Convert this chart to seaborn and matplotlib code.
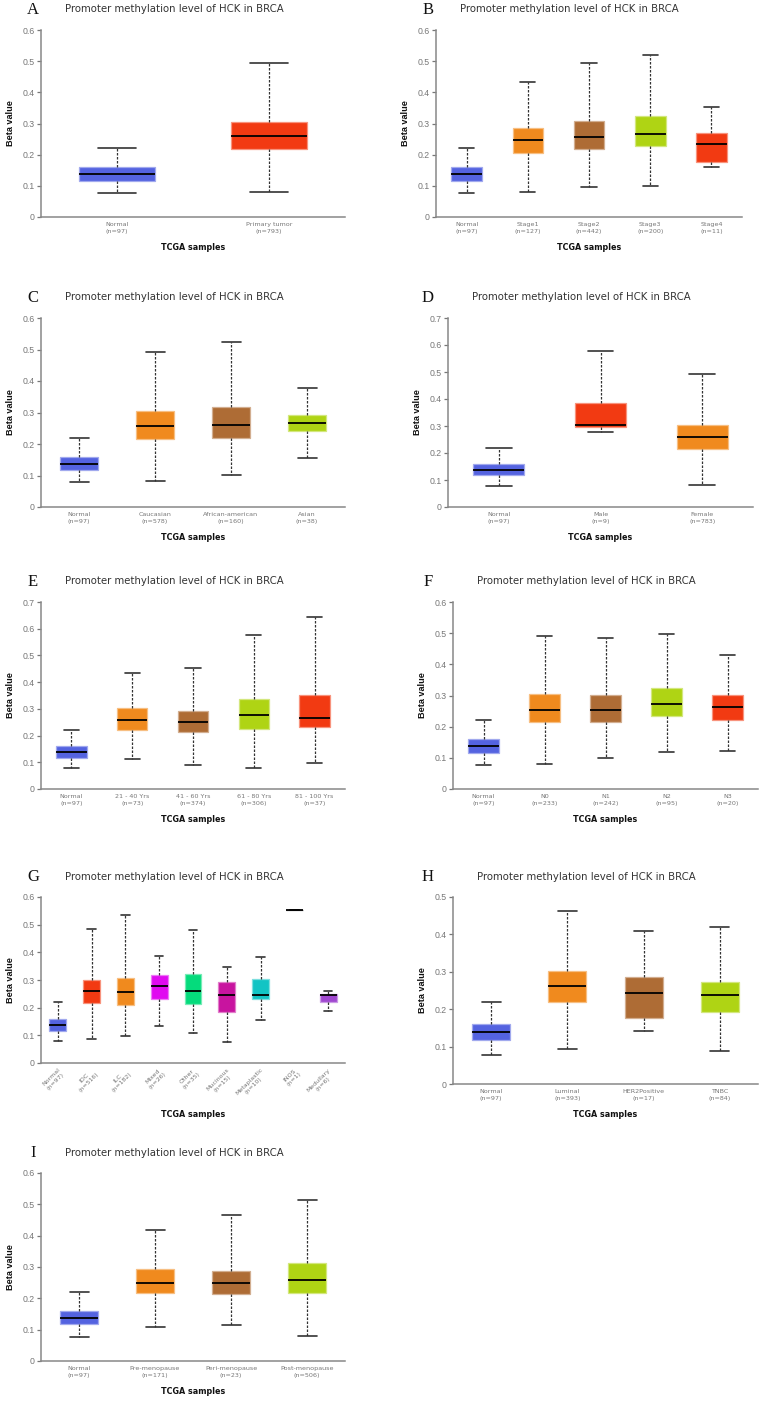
import numpy as np
import pandas as pd
import seaborn as sns
import matplotlib.pyplot as plt

# five-number summaries: [min, q1, median, q3, max]
normal = [0.078, 0.117, 0.138, 0.160, 0.220]

a_groups = ["Normal", "Primary tumor"]
a_n = [97, 793]
a_stats = [normal, [0.079, 0.217, 0.259, 0.306, 0.493]]

b_groups = ["Normal", "Stage1", "Stage2", "Stage3", "Stage4"]
b_n = [97, 127, 442, 200, 11]
b_stats = [normal,
           [0.079, 0.205, 0.247, 0.284, 0.432],
           [0.096, 0.217, 0.257, 0.308, 0.493],
           [0.100, 0.227, 0.265, 0.324, 0.519],
           [0.161, 0.178, 0.235, 0.270, 0.353]]

c_groups = ["Normal", "Caucasian", "African-american", "Asian"]
c_n = [97, 578, 160, 38]
c_stats = [normal,
           [0.081, 0.215, 0.257, 0.304, 0.491],
           [0.101, 0.220, 0.261, 0.318, 0.524],
           [0.157, 0.242, 0.266, 0.292, 0.377]]

d_groups = ["Normal", "Male", "Female"]
d_n = [97, 9, 783]
d_stats = [normal,
           [0.279, 0.295, 0.304, 0.385, 0.579],
           [0.080, 0.214, 0.258, 0.305, 0.491]]

e_groups = ["Normal", "21 - 40 Yrs", "41 - 60 Yrs", "61 - 80 Yrs", "81 - 100 Yrs"]
e_n = [97, 73, 374, 306, 37]
e_stats = [normal,
           [0.111, 0.221, 0.257, 0.303, 0.433],
           [0.088, 0.213, 0.252, 0.292, 0.454],
           [0.080, 0.224, 0.277, 0.338, 0.578],
           [0.096, 0.231, 0.266, 0.351, 0.645]]

f_groups = ["Normal", "N0", "N1", "N2", "N3"]
f_n = [97, 233, 242, 95, 20]
f_stats = [normal,
           [0.079, 0.214, 0.253, 0.305, 0.490],
           [0.099, 0.214, 0.253, 0.301, 0.486],
           [0.119, 0.235, 0.272, 0.325, 0.498],
           [0.123, 0.222, 0.262, 0.303, 0.430]]

g_groups = ["Normal", "IDC", "ILC", "Mixed", "Other", "Mucinous",
            "Metaplastic", "INOS", "Medullary"]
g_n = [97, 516, 182, 26, 35, 15, 10, 1, 6]
g_stats = [normal,
           [0.086, 0.218, 0.259, 0.301, 0.483],
           [0.098, 0.211, 0.255, 0.309, 0.535],
           [0.134, 0.232, 0.277, 0.317, 0.387],
           [0.109, 0.215, 0.262, 0.323, 0.480],
           [0.077, 0.183, 0.247, 0.293, 0.346],
           [0.156, 0.233, 0.244, 0.303, 0.384],
           [0.552, 0.552, 0.552, 0.552, 0.552],
           [0.187, 0.222, 0.244, 0.249, 0.260]]

h_groups = ["Normal", "Luminal", "HER2Positive", "TNBC"]
h_n = [97, 393, 17, 84]
h_stats = [normal,
           [0.094, 0.219, 0.261, 0.303, 0.462],
           [0.142, 0.176, 0.243, 0.286, 0.408],
           [0.089, 0.192, 0.238, 0.272, 0.419]]

i_groups = ["Normal", "Pre-menopause", "Peri-menopause", "Post-menopause"]
i_n = [97, 171, 23, 506]
i_stats = [normal,
           [0.109, 0.216, 0.250, 0.294, 0.418],
           [0.116, 0.213, 0.248, 0.286, 0.467],
           [0.079, 0.217, 0.260, 0.314, 0.515]]

BLUE, RED, ORANGE, BROWN, LIME = "#5463E0", "#F23A12", "#F08A1E", "#AE6C35", "#AFD414"
MAGENTA, GREEN, PLUM, CYAN, VIOLET = "#E00AF0", "#05DB7C", "#C8149F", "#12C4C4", "#A048D0"

sns.set_style("ticks")
plt.rcParams["font.family"] = ["DejaVu Sans"]

W, H = 762, 1402
fig = plt.figure(figsize=(W / 100, H / 100), dpi=100)

# (letter, groups, n, stats, colours, ymax, axes box in px: left, right, top, bottom)
panels = [
    ("A", a_groups, a_n, a_stats, [BLUE, RED], 0.6, (41, 345, 30, 217)),
    ("B", b_groups, b_n, b_stats, [BLUE, ORANGE, BROWN, LIME, RED], 0.6, (436, 742, 30, 217)),
    ("C", c_groups, c_n, c_stats, [BLUE, ORANGE, BROWN, LIME], 0.6, (41, 345, 318, 507)),
    ("D", d_groups, d_n, d_stats, [BLUE, RED, ORANGE], 0.7, (448, 753, 318, 507)),
    ("E", e_groups, e_n, e_stats, [BLUE, ORANGE, BROWN, LIME, RED], 0.7, (41, 345, 602, 789)),
    ("F", f_groups, f_n, f_stats, [BLUE, ORANGE, BROWN, LIME, RED], 0.6, (453, 758, 602, 789)),
    ("G", g_groups, g_n, g_stats, [BLUE, RED, ORANGE, MAGENTA, GREEN, PLUM, CYAN, "#222222", VIOLET],
     0.6, (41, 345, 897, 1063)),
    ("H", h_groups, h_n, h_stats, [BLUE, ORANGE, BROWN, LIME], 0.5, (453, 758, 897, 1084)),
    ("I", i_groups, i_n, i_stats, [BLUE, ORANGE, BROWN, LIME], 0.6, (41, 345, 1173, 1361)),
]

for letter, groups, ns, stats, colors, ymax, (l, r, t, b) in panels:
    ax = fig.add_axes([l / W, 1 - b / H, (r - l) / W, (b - t) / H])
    df = pd.DataFrame({"group": np.repeat(groups, 5),
                       "value": np.concatenate(stats)})
    sns.boxplot(data=df, x="group", y="value", hue="group", palette=colors,
                order=groups, hue_order=groups, whis=(0, 100), width=0.5,
                saturation=1, linecolor="#111111", linewidth=1.0,
                showfliers=False, legend=False, ax=ax,
                whiskerprops=dict(linestyle=(0, (2.0, 1.2)), linewidth=0.9, color="#333333"),
                capprops=dict(linewidth=1.2, color="#333333"),
                medianprops=dict(linewidth=1.3, color="black"))
    # pale outline around the filled boxes
    for p in ax.patches:
        fc = np.array(p.get_facecolor()[:3])
        p.set_edgecolor(tuple(fc + (1 - fc) * 0.45))
        p.set_linewidth(0.9)

    ax.set_xlim(-0.5, len(groups) - 0.5)
    ax.set_ylim(0, ymax)
    yt = np.round(np.arange(0, ymax + 0.001, 0.1), 1)
    ax.set_yticks(yt)
    ax.set_yticklabels(["0" if v == 0 else f"{v:.1f}" for v in yt],
                       fontsize=6.3, color="#777777", family="Liberation Sans")
    ax.tick_params(axis="y", length=3.2, width=0.9, color="#777777", pad=1.5)
    labels = [f"{g}\n(n={n})" for g, n in zip(groups, ns)]
    ax.set_xticks(range(len(groups)))
    if letter == "G":
        ax.set_xticklabels(labels, rotation=45, ha="right", va="top",
                           rotation_mode="anchor", fontsize=4.5, color="#777777",
                           multialignment="center")
        ax.tick_params(axis="x", length=0, pad=3)
        xlab_off = 47
    else:
        ax.set_xticklabels(labels, fontsize=4.6, color="#777777", linespacing=1.45)
        ax.tick_params(axis="x", length=0, pad=3.5)
        xlab_off = 26
    for s in ("left", "bottom"):
        ax.spines[s].set_color("#888888")
        ax.spines[s].set_linewidth(1.1)
    sns.despine(ax=ax)

    ax.set_xlabel("TCGA samples", fontsize=5.8, fontweight="bold", color="#111111")
    ax.xaxis.set_label_coords(0.5, -xlab_off / (b - t))
    ax.set_ylabel("Beta value", fontsize=6.6, fontweight="bold", color="#111111",
                  family="Liberation Sans")
    ax.yaxis.set_label_coords(-26 / (r - l), 0.5)

    # title and panel letter in figure pixels
    fig.text((l + 133.5) / W, 1 - (t - 20.5) / H,
             "Promoter methylation level of HCK in BRCA",
             ha="center", va="center", fontsize=7.3, color="#333333")
    lx = 33 if l < 200 else 428
    fig.text(lx / W, 1 - (t - 20) / H, letter, ha="center", va="center",
             fontsize=12, family="Liberation Serif", color="#111111")

fig.savefig("out.png", dpi=100)
